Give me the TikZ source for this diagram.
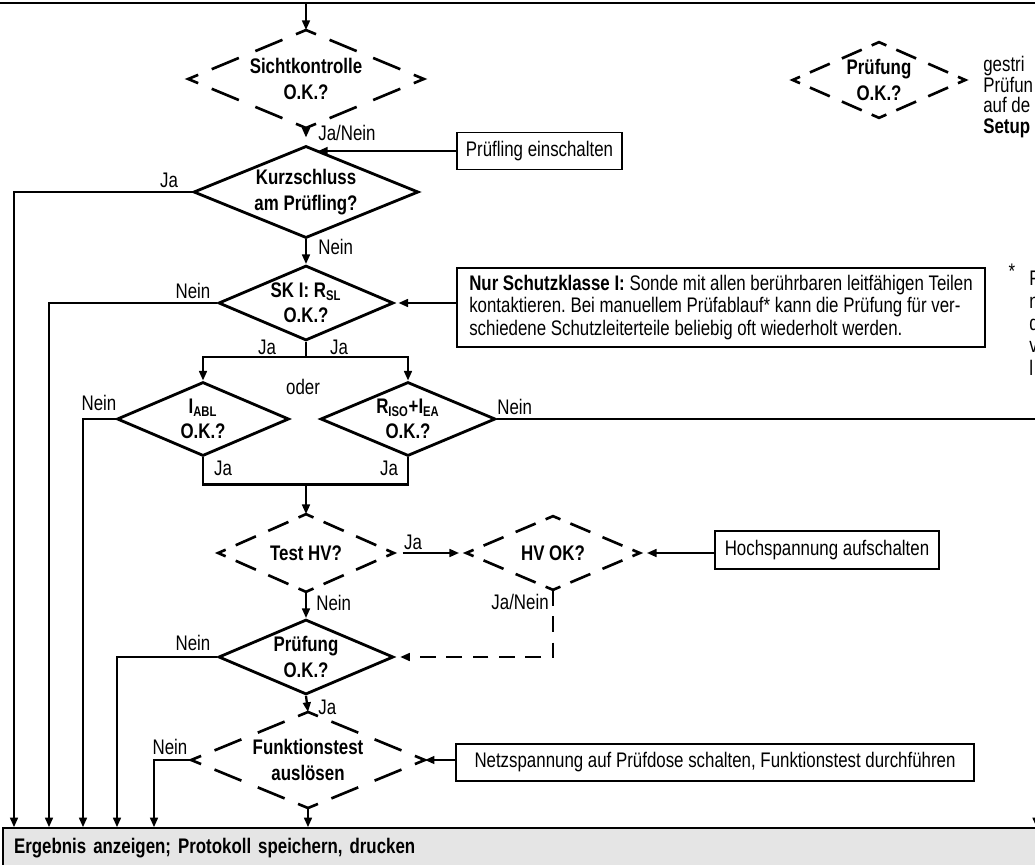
\documentclass[tikz,border=0pt]{standalone}
\usepackage{fontspec}
\setmainfont{Liberation Sans}[FakeStretch=0.8]
\usetikzlibrary{arrows.meta,positioning,shapes.geometric,calc}
\definecolor{resultgray}{HTML}{E5E5E5}
\tikzset{
  decision/.style={diamond,draw,line width=1.6pt,inner sep=-8pt,align=center,
    font=\fontsize{12}{14.5}\selectfont\bfseries},
  optdecision/.style={diamond,inner sep=-8pt,align=center,
    font=\fontsize{12}{14.5}\selectfont\bfseries},
  dashpart/.style={line width=1.5pt},
  infobox/.style={draw,line width=0.8pt,inner sep=0pt,align=left},
  flow/.style={-{Triangle[length=5.5pt,width=4.4pt]},line width=1.3pt},
  dashflow/.style={flow,dash pattern=on 9pt off 6pt},
  lbl/.style={inner sep=0pt},
}

\begin{document}
\frenchspacing
\fontsize{12}{13}\selectfont
\begin{tikzpicture}[x=0.02cm,y=-0.02cm]
  \useasboundingbox (0,0) rectangle (1035,865);
  \draw[line width=1.3pt] (0,3) -- (1035,3);
  \coordinate (top) at (306,3);

  % decisions
  \node[optdecision,minimum width=4.7cm,minimum height=1.52cm] (sicht) at (306,79) {Sichtkontrolle\\O.K.?};
  \node[decision,minimum width=4.5cm,minimum height=1.5cm] (kurz) at (306,192) {Kurzschluss\\am Prüfling?};
  \node[decision,minimum width=3.5cm,minimum height=1.5cm] (sk) at (306,303) {SK I: R\textsubscript{SL}\\O.K.?};
  \node[decision,minimum width=3.44cm,minimum height=1.48cm] (iabl) at (203,419) {I\textsubscript{ABL}\\O.K.?};
  \node[decision,minimum width=3.5cm,minimum height=1.48cm] (riso) at (408,419) {R\textsubscript{ISO}+I\textsubscript{EA}\\O.K.?};
  \node[optdecision,minimum width=3.5cm,minimum height=1.54cm] (testhv) at (306,553) {Test HV?};
  \node[optdecision,minimum width=3.46cm,minimum height=1.46cm] (hvok) at (553,553) {HV OK?};
  \node[decision,minimum width=3.5cm,minimum height=1.5cm] (pruef) at (306,657) {Prüfung\\O.K.?};
  \node[optdecision,minimum width=4.66cm,minimum height=1.48cm] (funk) at (308,760) {Funktionstest\\auslösen};
  \node[optdecision,minimum width=3.44cm,minimum height=1.5cm] (legend) at (879,80) {Prüfung\\O.K.?};

  % boxes
  \node[infobox,minimum width=3.3cm,minimum height=0.74cm] (ein) at (539.5,151) {Prüfling einschalten};
  \node[infobox,minimum width=10.56cm,minimum height=1.58cm] (note) at (721,307.5) {\textbf{Nur Schutzklasse I:} Sonde mit allen berührbaren leitfähigen Teilen\\kontaktieren. Bei manuellem Prüfablauf* kann die Prüfung für ver-\\schiedene Schutzleiterteile beliebig oft wiederholt werden.};
  \node[infobox,minimum width=4.48cm,minimum height=0.76cm] (hv) at (827,550) {Hochspannung aufschalten};
  \node[infobox,minimum width=10.36cm,minimum height=0.74cm] (netz) at (715,762.5) {Netzspannung auf Prüfdose schalten, Funktionstest durchführen};
  \node[infobox,fill=resultgray,text width=20.4cm,minimum height=0.8cm,inner xsep=0.22cm,font=\bfseries] (res) at (524,848) {Ergebnis anzeigen; Protokoll speichern, drucken};

  % dashed outlines of the optional checks
  \foreach \nd in {sicht,testhv,hvok,funk,legend} {
    \foreach \pre/\cor/\nxt in {south/west/north,west/north/east,north/east/south,east/south/west}
      \draw[dashpart] ($(\nd.\cor)!0.085!(\nd.\pre)$) -- (\nd.\cor) -- ($(\nd.\cor)!0.085!(\nd.\nxt)$);
    \foreach \sta/\eno in {west/north,north/east,east/south,south/west}
      \draw[dashpart] ($(\nd.\sta)!0.2!(\nd.\eno)$) -- ($(\nd.\sta)!0.43!(\nd.\eno)$)
        ($(\nd.\sta)!0.57!(\nd.\eno)$) -- ($(\nd.\sta)!0.8!(\nd.\eno)$);
  }

  % main flow
  \draw[flow] (top) -- (sicht.north);
  \draw[flow,shorten >=4pt] (sicht.south) -- (kurz.north);
  \draw[flow] (ein.west) -- ($(ein.west -| kurz.north)+(12,0)$);
  \draw[flow] (kurz.south) -- (sk.north);
  \draw[flow,shorten >=2pt] (note.west |- sk.east) -- (sk.east);
  \draw[line width=1.3pt] (sk.south) -- ++(0,15) coordinate (fork);
  \draw[flow] (fork) -| (iabl.north);
  \draw[flow] (fork) -| (riso.north);
  \draw[line width=1.3pt] (iabl.south) -- ++(0,27) coordinate (join) -| (riso.south);
  \draw[flow] (join -| top) -- (testhv.north);
  \draw[flow,shorten <=5pt,shorten >=4pt] (testhv.east) -- (hvok.west);
  \draw[flow,shorten >=4pt] (hv.west |- hvok.east) -- (hvok.east);
  \draw[flow] (testhv.south) -- (pruef.north);
  \draw[dashflow,shorten >=3pt] (hvok.south) |- (pruef.east);
  \draw[flow] (pruef.south) -- (funk.north);
  \draw[flow] (netz.west |- funk.east) -- (funk.east);
  \draw[flow] (funk.south) -- (funk.south |- res.north);

  % exits to the result bar
  \coordinate (b1) at (14,0);
  \coordinate (b2) at (49,0);
  \coordinate (b3) at (83,0);
  \coordinate (b4) at (117,0);
  \coordinate (b5) at (154,0);
  \coordinate (b6) at (1036.5,0);
  \draw[flow] (kurz.west) -| (b1 |- res.north);
  \draw[flow] (sk.west) -| (b2 |- res.north);
  \draw[flow] (iabl.west) -| (b3 |- res.north);
  \draw[flow] (pruef.west) -| (b4 |- res.north);
  \draw[flow] (funk.west) -| (b5 |- res.north);
  \draw[flow] (riso.east) -| (b6 |- res.north);

  % labels
  \node[lbl,anchor=west] (sichtlbl) at (318,133) {Ja/Nein};
  \node[lbl] (kurzja) at (169,180) {Ja};
  \node[lbl,anchor=west] (kurznein) at (318,247) {Nein};
  \node[lbl] (sknein) at (193,291) {Nein};
  \node[lbl] (skjaleft) at (267,347) {Ja};
  \node[lbl] (skjaright) at (339,347) {Ja};
  \node[lbl] (oder) at (303,387) {oder};
  \node[lbl] (iablnein) at (99,403) {Nein};
  \node[lbl,anchor=west] (risonein) at (497,407) {Nein};
  \node[lbl] (iablja) at (223,468) {Ja};
  \node[lbl] (risoja) at (389,468) {Ja};
  \node[lbl] (testhvja) at (413,542) {Ja};
  \node[lbl,anchor=west] (testhvnein) at (316,603) {Nein};
  \node[lbl,anchor=east] (hvoklbl) at (549,602) {Ja/Nein};
  \node[lbl] (pruefnein) at (193,643) {Nein};
  \node[lbl,anchor=west] (pruefja) at (318,707) {Ja};
  \node[lbl] (funknein) at (170,747) {Nein};

  % legend and footnote, cut at the right edge
  \node[lbl,anchor=north west,align=left,font=\fontsize{12}{11.7}\selectfont] (legtext) at (983,56) {gestri\\Prüfun\\auf de\\\textbf{Setup}};
  \node[lbl] (star) at (1012,271) {*};
  \node[lbl,anchor=north west,align=left,font=\fontsize{12}{12.7}\selectfont] (foot) at (1029,271) {P\\n\\d\\v\\l};
\end{tikzpicture}
\end{document}
